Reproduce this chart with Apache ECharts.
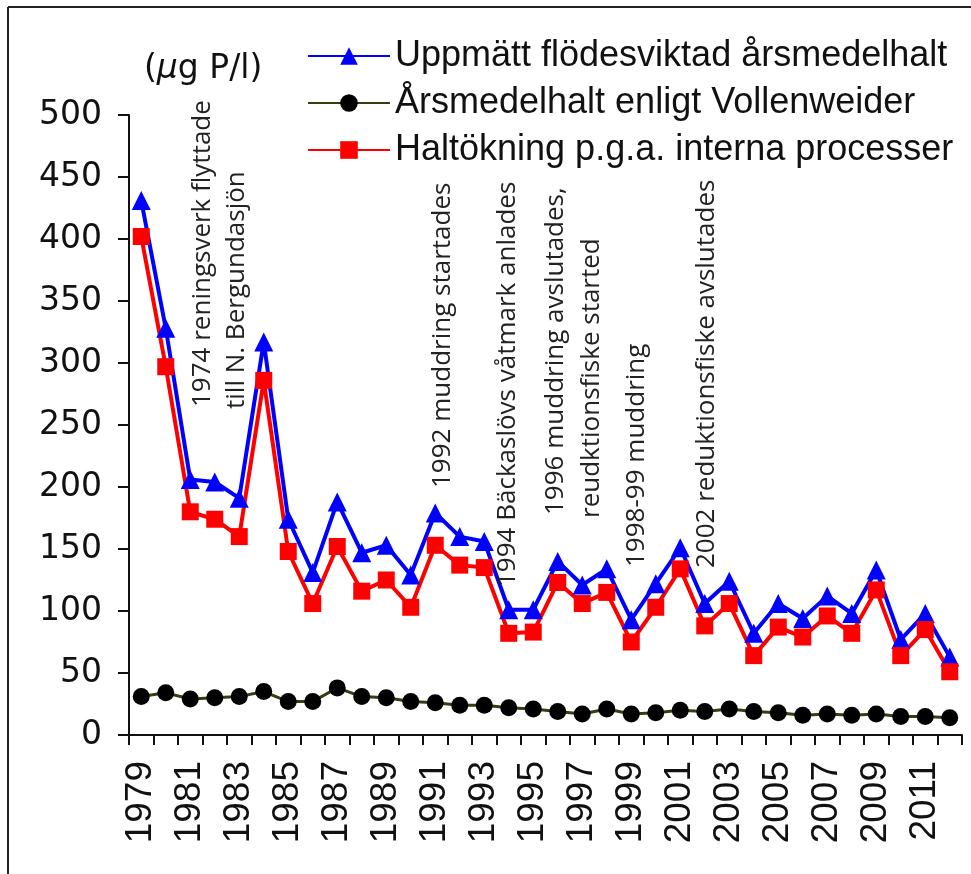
<!DOCTYPE html>
<html>
<head>
<meta charset="utf-8">
<script src="https://cdn.jsdelivr.net/npm/echarts@6/dist/echarts.min.js"></script>
<style>
  html, body { margin: 0; padding: 0; background: #fff; }
  #chart { width: 971px; height: 874px; }
</style>
</head>
<body>
<div id="chart"></div>
<script>
// årtal 1979–2012
const years = []
for (let y = 1979; y <= 2012; y++) years.push(String(y))

// uppmätt flödesviktad årsmedelhalt (µg P/l)
const measured = [431, 328, 206, 204, 191, 317, 174, 131, 188, 147, 153, 129, 179, 160, 156, 101, 101,
  140, 121, 134, 93, 122, 151, 106, 124, 82, 106, 94, 112, 98, 133, 77, 98, 63]
// årsmedelhalt enligt Vollenweider
const vollenweider = [31, 34, 29, 30, 31, 35, 27, 27, 38, 31, 30, 27, 26, 24, 24, 22, 21,
  19, 17, 21, 17, 18, 20, 19, 21, 19, 18, 16, 17, 16, 17, 15, 15, 14]
// haltökning p.g.a. interna processer
const internal = [402, 297, 180, 174, 160, 286, 148, 106, 152, 116, 125, 103, 153, 137, 135, 82, 83,
  123, 106, 115, 75, 103, 134, 88, 106, 64, 87, 79, 96, 82, 117, 64, 85, 51]

const seriesNames = [
  'Uppmätt flödesviktad årsmedelhalt',
  'Årsmedelhalt enligt Vollenweider',
  'Haltökning p.g.a. interna processer'
]

// händelser, [x, y] = startpunkt (nederkant) för roterad text
const notes = [
  { text: '1974 reningsverk flyttade', x: 203, y: 407 },
  { text: 'till N. Bergundasjön', x: 237, y: 409 },
  { text: '1992 muddring startades', x: 443, y: 488 },
  { text: '1994 Bäckaslövs våtmark anlades', x: 508, y: 587 },
  { text: '1996 muddring avslutades,', x: 556, y: 515 },
  { text: 'reudktionsfiske started', x: 592, y: 518 },
  { text: '1998-99 muddring', x: 637, y: 567 },
  { text: '2002 reduktionsfiske avslutades', x: 707, y: 568 }
]

const chart = echarts.init(document.getElementById('chart'))

const graphics = notes.map((n) => ({
  type: 'text',
  x: n.x,
  y: n.y,
  rotation: Math.PI / 2,
  style: {
    text: n.text,
    font: '26px "Open Sans"',
    fill: '#222',
    align: 'left',
    verticalAlign: 'middle'
  },
  z: 10
}))

// ram runt figuren
graphics.push(
  { type: 'line', shape: { x1: 8, y1: 7, x2: 971, y2: 7 }, style: { stroke: '#222', lineWidth: 2 } },
  { type: 'line', shape: { x1: 8, y1: 7, x2: 8, y2: 874 }, style: { stroke: '#222', lineWidth: 2 } },
  {
    type: 'text',
    x: 144,
    y: 69,
    style: {
      text: '({i|µ}g P/l)',
      font: '33px "DejaVu Sans"',
      fill: '#111',
      verticalAlign: 'middle',
      rich: { i: { font: 'italic 33px "DejaVu Sans"', fill: '#111' } }
    }
  }
)

chart.setOption({
  animation: false,
  backgroundColor: '#fff',
  textStyle: { fontFamily: 'Liberation Sans' },
  grid: { left: 129, right: 9, top: 115, bottom: 139, containLabel: false },
  legend: {
    orient: 'vertical',
    left: 302,
    top: 33,
    itemWidth: 82,
    itemHeight: 22,
    itemGap: 11,
    textStyle: { fontSize: 36, color: '#111', lineHeight: 36, fontFamily: 'Liberation Sans' },
    data: seriesNames
  },
  xAxis: {
    type: 'category',
    data: years,
    boundaryGap: true,
    axisLine: { lineStyle: { color: '#111', width: 2 } },
    axisTick: { show: true, interval: 0, length: 10, lineStyle: { color: '#111', width: 2 } },
    axisLabel: {
      interval: 1,
      rotate: 90,
      fontSize: 37,
      color: '#111',
      margin: 26,
      fontFamily: 'Liberation Sans'
    },
    splitLine: { show: false }
  },
  yAxis: {
    type: 'value',
    min: 0,
    max: 500,
    interval: 50,
    axisLine: { show: true, lineStyle: { color: '#111', width: 2 } },
    axisTick: { show: true, length: 11, lineStyle: { color: '#111', width: 2 } },
    axisLabel: { fontSize: 33, color: '#111', margin: 27, fontFamily: 'DejaVu Sans' },
    splitLine: { show: false }
  },
  graphic: graphics,
  series: [
    {
      name: seriesNames[0],
      type: 'line',
      data: measured,
      symbol: 'triangle',
      symbolSize: 19,
      showAllSymbol: true,
      color: '#0000ff',
      lineStyle: { color: '#0000ff', width: 4 },
      itemStyle: { color: '#0000ff' }
    },
    {
      name: seriesNames[1],
      type: 'line',
      data: vollenweider,
      symbol: 'circle',
      symbolSize: 17,
      showAllSymbol: true,
      color: '#000',
      lineStyle: { color: '#3b3b10', width: 3 },
      itemStyle: { color: '#000' }
    },
    {
      name: seriesNames[2],
      type: 'line',
      data: internal,
      symbol: 'rect',
      symbolSize: 17,
      showAllSymbol: true,
      color: '#ff0000',
      lineStyle: { color: '#ff0000', width: 4 },
      itemStyle: { color: '#ff0000' }
    }
  ]
})
</script>
</body>
</html>
